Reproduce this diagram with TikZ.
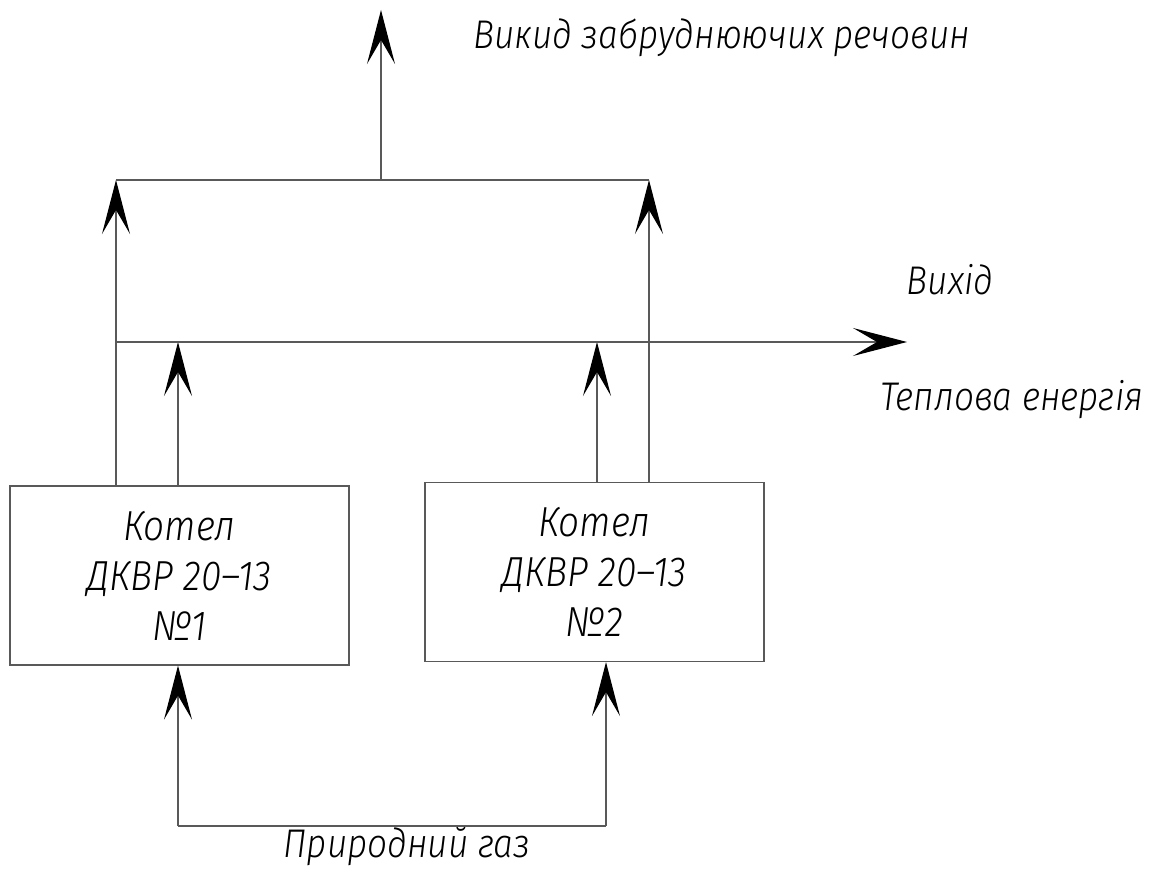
\documentclass[tikz,border=0pt]{standalone}
\usepackage{fontspec}
\setmainfont{Fira Sans Light Italic}[FakeStretch=0.88]
\usetikzlibrary{arrows.meta}

\tikzset{
  line/.style={draw=black!65, line width=0.6pt},
  arr/.style={line, -{Stealth[length=27pt,width=14pt,inset=12pt,color=black]}},
  boiler/.style={draw=black!65, line width=0.6pt, minimum width=169.5pt,
    minimum height=89.5pt, align=center,
    font=\fontsize{21}{25}\selectfont},
  lbl/.style={font=\fontsize{20}{24}\selectfont}
}

\begin{document}
\begin{tikzpicture}[x=0.5pt,y=-0.5pt]
 \useasboundingbox (0,0) rectangle (1151,870);

 % boilers
 \node[boiler] (k1) at (179.5,575.5) {Котел\\ДКВР 20--13\\№1};
 \node[boiler] (k2) at (594.5,572) {Котел\\ДКВР 20--13\\№2};

 % junction points
 \coordinate (tl) at (116,180);  % flue gas, left corner
 \coordinate (tr) at (649,180);  % flue gas, right corner
 \coordinate (tm) at (381,180);  % flue gas, common stack
 \coordinate (top) at (381,10);
 \coordinate (hl) at (116,342);  % heat line
 \coordinate (hr) at (907,342);
 \coordinate (h1) at (178,342);
 \coordinate (h2) at (597,342);
 \coordinate (gl) at (178,826);  % gas line
 \coordinate (gr) at (606,826);

 % flue gases
 \draw[arr] (k1.north -| tl) -- (tl);
 \draw[arr] (k2.north -| tr) -- (tr);
 \draw[line] (tl) -- (tr);
 \draw[arr] (tm) -- (top);
 \node[lbl, anchor=west] (vykyd) at (466,38) {Викид забруднюючих речовин};

 % heat
 \draw[arr] (k1.north -| h1) -- (h1);
 \draw[arr] (k2.north -| h2) -- (h2);
 \draw[arr] (hl) -- (hr);
 \node[lbl] (vykhid) at (950,280) {Вихід};
 \node[lbl] (teplo) at (1012,400) {Теплова енергія};

 % natural gas
 \draw[line] (gl) -- (gr);
 \draw[arr] (gl) -- (k1.south -| gl);
 \draw[arr] (gr) -- (k2.south -| gr);
 \node[lbl] (gaz) at (407,847) {Природний газ};

\end{tikzpicture}
\end{document}
